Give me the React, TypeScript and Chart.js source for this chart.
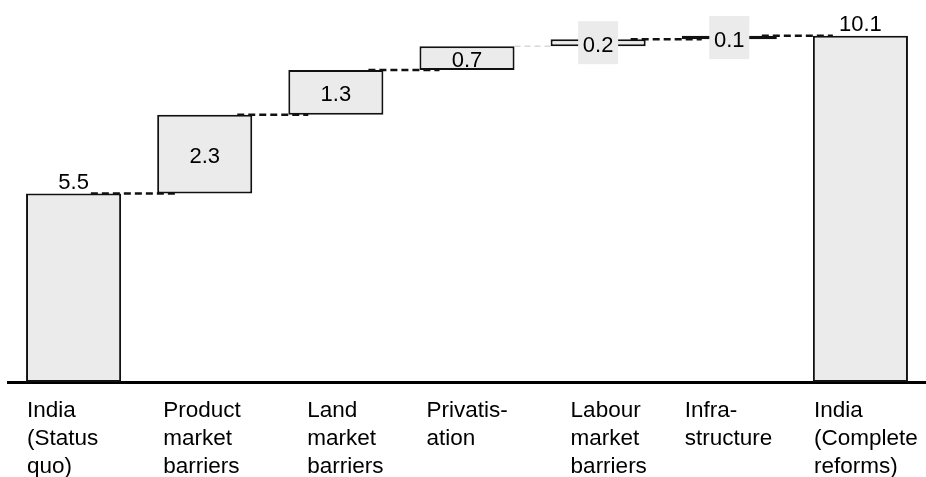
import { useEffect, useRef } from "react";
import { Chart, registerables } from "chart.js";

Chart.register(...registerables);

// Category labels, one entry per line
const categories: string[][] = [
  ["India", "(Status", "quo)"],
  ["Product", "market", "barriers"],
  ["Land", "market", "barriers"],
  ["Privatis-", "ation"],
  ["Labour", "market", "barriers"],
  ["Infra-", "structure"],
  ["India", "(Complete", "reforms)"],
];

// Step sizes; totals start from zero
const values = [5.5, 2.3, 1.3, 0.7, 0.2, 0.1, 10.1];
const isTotal = [true, false, false, false, false, false, true];
const valueLabels = ["5.5", "2.3", "1.3", "0.7", "0.2", "0.1", "10.1"];

// Styling
const FONT = "'Liberation Sans', Arial, Helvetica, sans-serif";
const BAR_FILL = "#ebebeb";
const INK = "#111111";
const labelIndent = [1, 6, 19, 7, 20, 3, 1];
const connectorStyle = [
  { color: INK, width: 2.5, dash: [7, 4], inset: true },
  { color: INK, width: 2.5, dash: [7, 4], inset: true },
  { color: INK, width: 2.5, dash: [7, 4], inset: true },
  { color: "#c4c4c4", width: 1, dash: [6, 4], inset: false },
  { color: INK, width: 2.5, dash: [7, 4], inset: true },
  { color: INK, width: 2.5, dash: [7, 4], inset: true },
];

// Floating [start, end] ranges for the waterfall
function buildRanges(): [number, number][] {
  let running = 0;
  return values.map((v, i) => {
    if (isTotal[i]) {
      running = v;
      return [0, v] as [number, number];
    }
    const r: [number, number] = [running, running + v];
    running += v;
    return r;
  });
}

const waterfallPlugin = {
  id: "waterfallDecor",
  afterDatasetsDraw(chart: any) {
    const { ctx } = chart;
    const meta = chart.getDatasetMeta(0);
    const yScale = chart.scales.y;
    const ranges = chart.data.datasets[0].data as [number, number][];
    const bars = meta.data.map((el: any) => {
      const p = el.getProps(["x", "y", "base", "width"], true);
      return {
        left: p.x - p.width / 2,
        right: p.x + p.width / 2,
        cx: p.x,
        top: Math.min(p.y, p.base),
        bottom: Math.max(p.y, p.base),
      };
    });

    ctx.save();
    ctx.font = `22px ${FONT}`;

    // total labels sit above their bars; remember where they end
    const labelRight: number[] = [];
    bars.forEach((b: any, i: number) => {
      if (isTotal[i]) {
        const w = ctx.measureText(valueLabels[i]).width;
        labelRight[i] = b.cx + w / 2;
      }
    });

    // dashed connectors between the running totals
    for (let i = 0; i < bars.length - 1; i++) {
      const st = connectorStyle[i];
      const level = ranges[i][1];
      const y = yScale.getPixelForValue(level);
      let x1 = bars[i].right;
      let x2 = bars[i + 1].left;
      if (st.inset) {
        x1 = isTotal[i] ? labelRight[i] + 2 : bars[i].right - 15;
        x2 = bars[i + 1].left + 20;
      }
      ctx.beginPath();
      ctx.setLineDash(st.dash);
      ctx.lineWidth = st.width;
      ctx.strokeStyle = st.color;
      ctx.moveTo(x1, y);
      ctx.lineTo(x2, y);
      ctx.stroke();
    }
    ctx.setLineDash([]);

    // value labels
    ctx.textAlign = "center";
    bars.forEach((b: any, i: number) => {
      if (isTotal[i]) {
        ctx.textBaseline = "alphabetic";
        ctx.fillStyle = "#000";
        ctx.fillText(valueLabels[i], b.cx, b.top - 5);
        return;
      }
      const cy = (b.top + b.bottom) / 2;
      if (b.bottom - b.top < 20) {
        ctx.fillStyle = BAR_FILL;
        ctx.fillRect(b.cx - 20, cy - 21.5, 40, 43);
      }
      ctx.textBaseline = "middle";
      ctx.fillStyle = "#000";
      ctx.fillText(valueLabels[i], b.cx, cy + 3);
    });

    // category labels under the axis
    ctx.font = `22.5px ${FONT}`;
    ctx.textAlign = "left";
    ctx.textBaseline = "alphabetic";
    const axisY = chart.chartArea.bottom;
    bars.forEach((b: any, i: number) => {
      categories[i].forEach((line, j) => {
        ctx.fillText(line, b.left + labelIndent[i], axisY + 34.5 + j * 28);
      });
    });

    ctx.restore();
  },
};

export default function App() {
  const canvasRef = useRef<HTMLCanvasElement | null>(null);

  useEffect(() => {
    if (!canvasRef.current) return;
    const chart = new Chart(canvasRef.current, {
      type: "bar",
      data: {
        labels: categories.map((c) => c.join(" ")),
        datasets: [
          {
            data: buildRanges() as any,
            backgroundColor: BAR_FILL,
            borderColor: INK,
            borderWidth: 2,
            borderSkipped: false,
            barPercentage: 0.725,
            categoryPercentage: 1,
          },
        ],
      },
      options: {
        animation: false,
        responsive: false,
        layout: { padding: { left: 8, right: 0, top: 5, bottom: 95 } },
        plugins: {
          legend: { display: false },
          tooltip: { enabled: false },
        },
        scales: {
          x: {
            grid: { display: false, drawTicks: false },
            ticks: { display: false },
            border: { display: true, color: "#000", width: 3 },
          },
          y: { display: false, min: 0, max: 11 },
        },
      },
      plugins: [waterfallPlugin],
    });
    return () => chart.destroy();
  }, []);

  return (
    <div style={{ position: "absolute", left: 0, top: 0, width: 926, height: 477, background: "#fff" }}>
      <canvas ref={canvasRef} width={926} height={477} style={{ display: "block" }} />
    </div>
  );
}
